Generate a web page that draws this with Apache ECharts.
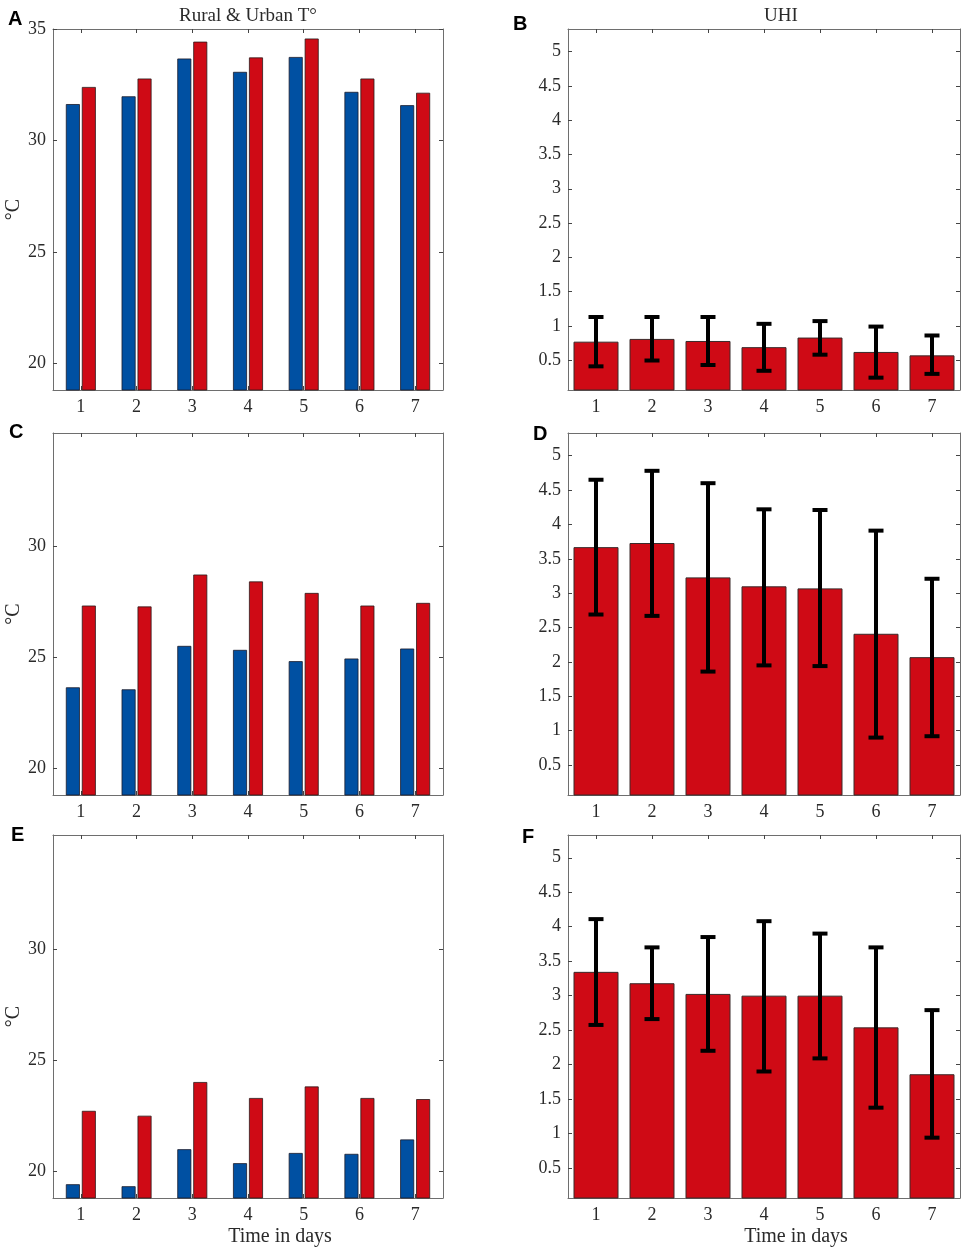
<!DOCTYPE html>
<html>
<head>
<meta charset="utf-8">
<script src="https://cdn.jsdelivr.net/npm/echarts@6.0.0/dist/echarts.min.js"></script>
<style>
  html, body { margin: 0; padding: 0; background: #fff; }
  #chart { width: 969px; height: 1252px; }
</style>
</head>
<body>
<div id="chart"></div>
<script>
// days on the x axis
var days = ['1', '2', '3', '4', '5', '6', '7'];

// rural (blue) and urban (red) temperatures, panels A, C, E
var ruralA = [31.65, 32.0, 33.7, 33.1, 33.77, 32.2, 31.6];
var urbanA = [32.42, 32.8, 34.46, 33.75, 34.6, 32.8, 32.16];
var ruralC = [23.64, 23.55, 25.51, 25.33, 24.82, 24.94, 25.39];
var urbanC = [27.33, 27.29, 28.73, 28.42, 27.9, 27.33, 27.45];
var ruralE = [19.40, 19.31, 20.98, 20.35, 20.81, 20.77, 21.42];
var urbanE = [22.71, 22.49, 24.01, 23.29, 23.81, 23.29, 23.24];

// UHI mean with error bar ends, panels B, D, F
var uhiB = [0.77, 0.81, 0.78, 0.69, 0.83, 0.62, 0.57];
var uhiBLow = [0.41, 0.495, 0.43, 0.345, 0.58, 0.245, 0.30];
var uhiBHigh = [1.13, 1.13, 1.13, 1.03, 1.07, 0.99, 0.86];
var uhiD = [3.67, 3.73, 3.23, 3.10, 3.07, 2.41, 2.07];
var uhiDLow = [2.69, 2.67, 1.86, 1.95, 1.94, 0.90, 0.92];
var uhiDHigh = [4.65, 4.78, 4.60, 4.22, 4.21, 3.91, 3.21];
var uhiF = [3.345, 3.18, 3.025, 3.0, 3.0, 2.54, 1.86];
var uhiFLow = [2.575, 2.66, 2.20, 1.90, 2.09, 1.375, 0.94];
var uhiFHigh = [4.11, 3.70, 3.85, 4.08, 3.90, 3.70, 2.79];

// tick labels
var tempTicksTop = [20, 25, 30, 35];
var tempTicks = [20, 25, 30];
var uhiTicks = [0.5, 1, 1.5, 2, 2.5, 3, 3.5, 4, 4.5, 5];

var serif = 'Liberation Serif, Times New Roman, serif';
var blue = '#0050a2';
var red = '#cf0a15';
var boxColor = '#6e6e6e';
var textColor = '#2a2a2a';

var chart = echarts.init(document.getElementById('chart'));

var panels = [
  { left: 53, top: 29, width: 390, height: 361, min: 18.78, max: 35.03, ticks: tempTicksTop, temp: [ruralA, urbanA] },
  { left: 568, top: 29, width: 392, height: 361, min: 0.065, max: 5.33, ticks: uhiTicks, uhi: [uhiB, uhiBLow, uhiBHigh] },
  { left: 53, top: 433, width: 390, height: 362, min: 18.78, max: 35.12, ticks: tempTicks, temp: [ruralC, urbanC] },
  { left: 568, top: 433, width: 392, height: 362, min: 0.065, max: 5.33, ticks: uhiTicks, uhi: [uhiD, uhiDLow, uhiDHigh] },
  { left: 53, top: 835, width: 390, height: 363, min: 18.78, max: 35.15, ticks: tempTicks, temp: [ruralE, urbanE], xname: true },
  { left: 568, top: 835, width: 392, height: 363, min: 0.065, max: 5.33, ticks: uhiTicks, uhi: [uhiF, uhiFLow, uhiFHigh], xname: true }
];

var grids = [], xAxes = [], yAxes = [], series = [];

panels.forEach(function (p, i) {
  grids.push({ left: p.left, top: p.top, width: p.width, height: p.height, containLabel: false });

  // bottom axis with labels
  xAxes.push({
    type: 'category', gridIndex: i, data: days, position: 'bottom',
    axisLine: { show: true, lineStyle: { color: boxColor, width: 1 } },
    axisTick: { show: true, inside: true, alignWithLabel: true, length: 4, lineStyle: { color: '#444' } },
    axisLabel: { color: textColor, fontFamily: serif, fontSize: 18, margin: 8 },
    name: p.xname ? 'Time in days' : '',
    nameLocation: 'middle', nameGap: 29,
    nameTextStyle: { color: textColor, fontFamily: serif, fontSize: 20, padding: [0, 0, 0, 64] }
  });
  // top axis, only ticks
  xAxes.push({
    type: 'category', gridIndex: i, data: days, position: 'top',
    axisLine: { show: true, lineStyle: { color: boxColor, width: 1 } },
    axisTick: { show: true, inside: true, alignWithLabel: true, length: 4, lineStyle: { color: '#444' } },
    axisLabel: { show: false }
  });

  yAxes.push({
    type: 'value', gridIndex: i, min: p.min, max: p.max, position: 'left',
    axisLine: { show: true, lineStyle: { color: boxColor, width: 1 } },
    axisTick: { show: true, inside: true, length: 4, customValues: p.ticks, lineStyle: { color: '#444' } },
    axisLabel: { color: textColor, fontFamily: serif, fontSize: 18, margin: 7, customValues: p.ticks },
    splitLine: { show: false },
    name: p.temp ? '°C' : '',
    nameLocation: 'middle', nameGap: 29, nameRotate: 90,
    nameTextStyle: { color: textColor, fontFamily: serif, fontSize: 20 }
  });
  yAxes.push({
    type: 'value', gridIndex: i, min: p.min, max: p.max, position: 'right',
    axisLine: { show: true, lineStyle: { color: boxColor, width: 1 } },
    axisTick: { show: true, inside: true, length: 4, customValues: p.ticks, lineStyle: { color: '#444' } },
    axisLabel: { show: false },
    splitLine: { show: false }
  });

  var xi = i * 2, yi = i * 2;
  if (p.temp) {
    series.push({
      type: 'bar', name: 'Rural', xAxisIndex: xi, yAxisIndex: yi, data: p.temp[0],
      barWidth: 14, barGap: '14%',
      itemStyle: { color: blue, borderColor: '#1a1a2a', borderWidth: 0.8 }
    });
    series.push({
      type: 'bar', name: 'Urban', xAxisIndex: xi, yAxisIndex: yi, data: p.temp[1],
      barWidth: 14, barGap: '14%',
      itemStyle: { color: red, borderColor: '#2a1a1a', borderWidth: 0.8 }
    });
  } else {
    series.push({
      type: 'bar', name: 'UHI', xAxisIndex: xi, yAxisIndex: yi, data: p.uhi[0],
      barWidth: 45,
      itemStyle: { color: red, borderColor: '#3a2a2a', borderWidth: 1 }
    });
    var errData = days.map(function (d, k) { return [k, p.uhi[1][k], p.uhi[2][k]]; });
    series.push({
      type: 'custom', xAxisIndex: xi, yAxisIndex: yi, data: errData, z: 5,
      encode: { x: 0, y: [1, 2] },
      renderItem: function (params, api) {
        var lo = api.coord([api.value(0), api.value(1)]);
        var hi = api.coord([api.value(0), api.value(2)]);
        var half = 7.5;
        var st = { stroke: '#000', lineWidth: 4 };
        return {
          type: 'group',
          children: [
            { type: 'line', shape: { x1: lo[0], y1: lo[1], x2: hi[0], y2: hi[1] }, style: st },
            { type: 'line', shape: { x1: lo[0] - half, y1: lo[1], x2: lo[0] + half, y2: lo[1] }, style: st },
            { type: 'line', shape: { x1: hi[0] - half, y1: hi[1], x2: hi[0] + half, y2: hi[1] }, style: st }
          ]
        };
      }
    });
  }
});

var letterStyle = { fontFamily: 'Liberation Sans, Arial, sans-serif', fontWeight: 'bold', fontSize: 20, color: '#000' };
var titleStyle = { fontFamily: serif, fontWeight: 'normal', fontSize: 19, color: textColor };

chart.setOption({
  animation: false,
  backgroundColor: '#fff',
  title: [
    { text: 'Rural & Urban T°', left: 243, top: 2, textAlign: 'center', textStyle: titleStyle },
    { text: 'UHI', left: 776, top: 2, textAlign: 'center', textStyle: titleStyle },
    { text: 'A', left: 3, top: 4, textStyle: letterStyle },
    { text: 'B', left: 508, top: 9, textStyle: letterStyle },
    { text: 'C', left: 4, top: 417, textStyle: letterStyle },
    { text: 'D', left: 528, top: 419, textStyle: letterStyle },
    { text: 'E', left: 6, top: 820, textStyle: letterStyle },
    { text: 'F', left: 517, top: 822, textStyle: letterStyle }
  ],
  grid: grids,
  xAxis: xAxes,
  yAxis: yAxes,
  series: series
});
</script>
</body>
</html>
